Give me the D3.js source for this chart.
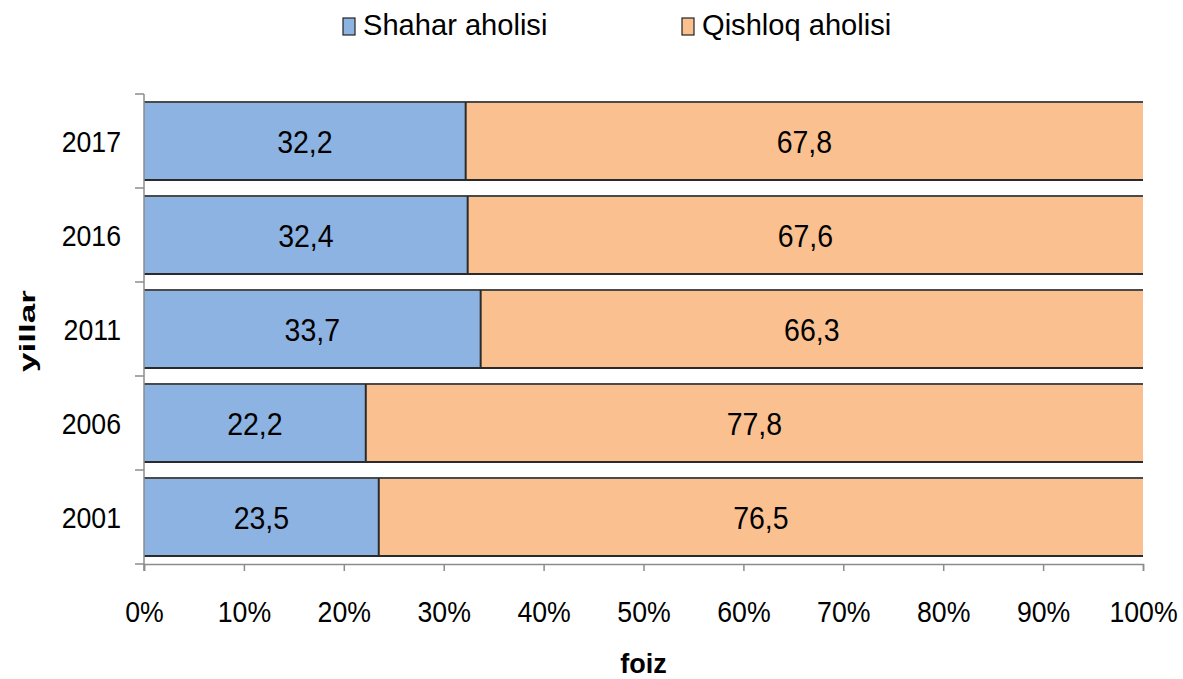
<!DOCTYPE html>
<html>
<head>
<meta charset="utf-8">
<script src="https://cdn.jsdelivr.net/npm/d3@7"></script>
<style>
body { margin: 0; background: #fff; }
text { font-family: "Liberation Sans", Arial, sans-serif; fill: #000; }
</style>
</head>
<body>
<svg id="chart"></svg>
<script>
var years = ["2017", "2016", "2011", "2006", "2001"];
var shahar = [32.2, 32.4, 33.7, 22.2, 23.5];
var qishloq = [67.8, 67.6, 66.3, 77.8, 76.5];
var seriesNames = ["Shahar aholisi", "Qishloq aholisi"];
var colors = ["#8DB3E2", "#FAC090"];
var xTicks = [0, 10, 20, 30, 40, 50, 60, 70, 80, 90, 100];

var screen = {width: 1183, height: 679};
var margins = {top: 94, left: 144, right: 40, bottom: 115};
var graph = {
    width: screen.width - margins.left - margins.right,
    height: screen.height - margins.top - margins.bottom
};

// text in the original is a bit squeezed sideways
var sq = 0.89;

var svg = d3.select("#chart")
    .attr("width", screen.width)
    .attr("height", screen.height);

var g = svg.append("g")
    .attr("transform", "translate(" + margins.left + "," + margins.top + ")");

var xScale = d3.scaleLinear()
    .domain([0, 100])
    .range([0, graph.width]);

var yScale = d3.scaleBand()
    .domain(years)
    .range([0, graph.height])
    .paddingInner(0.17)
    .paddingOuter(0.085);

var rows = years.map(function(y, i) {
    return {year: y, vals: [shahar[i], qishloq[i]]};
});

// bars
rows.forEach(function(row) {
    var x0 = 0;
    var top = yScale(row.year);
    var bot = top + yScale.bandwidth();
    row.vals.forEach(function(v, j) {
        var x1 = x0 + v;
        g.append("rect")
            .attr("x", xScale(x0))
            .attr("y", top)
            .attr("width", xScale(x1) - xScale(x0))
            .attr("height", yScale.bandwidth())
            .attr("fill", colors[j]);
        g.append("text")
            .attr("transform", "translate(" + xScale((x0 + x1) / 2) + "," + (top + yScale.bandwidth() / 2) + ") scale(" + sq + ",1)")
            .attr("dy", "0.36em")
            .attr("text-anchor", "middle")
            .style("font-size", "32px")
            .text(d3.format(".1f")(v).replace(".", ","));
        x0 = x1;
    });
    // dark edges on top, bottom and between the two parts
    g.append("line")
        .attr("x1", xScale(0)).attr("x2", xScale(100))
        .attr("y1", top).attr("y2", top)
        .attr("stroke", "#4a4a4a").attr("stroke-width", 2);
    g.append("line")
        .attr("x1", xScale(0)).attr("x2", xScale(100))
        .attr("y1", bot).attr("y2", bot)
        .attr("stroke", "#2a2a2a").attr("stroke-width", 2);
    g.append("line")
        .attr("x1", xScale(row.vals[0])).attr("x2", xScale(row.vals[0]))
        .attr("y1", top).attr("y2", bot)
        .attr("stroke", "#2a2a2a").attr("stroke-width", 2);
});

// x axis
var xAxis = d3.axisBottom(xScale)
    .tickValues(xTicks)
    .tickSize(7)
    .tickFormat(function(d) { return d + "%"; });

var xg = g.append("g")
    .attr("transform", "translate(0," + graph.height + ")")
    .call(xAxis);
xg.select(".domain").attr("stroke", "#8c8c8c").attr("stroke-width", 1.5);
xg.selectAll(".tick line").attr("stroke", "#8c8c8c").attr("stroke-width", 1.5);
xg.selectAll(".tick text")
    .attr("dy", 0)
    .attr("y", 58)
    .attr("transform", "scale(" + sq + ",1)")
    .style("font-size", "30px")
    .style("font-family", "Liberation Sans, Arial, sans-serif");

// y axis: line with ticks between categories
var yg = g.append("g");
yg.append("line")
    .attr("x1", 0).attr("x2", 0)
    .attr("y1", 0).attr("y2", graph.height + 7)
    .attr("stroke", "#8c8c8c").attr("stroke-width", 1.5);
d3.range(years.length + 1).forEach(function(i) {
    yg.append("line")
        .attr("x1", -9).attr("x2", 0)
        .attr("y1", i * graph.height / years.length)
        .attr("y2", i * graph.height / years.length)
        .attr("stroke", "#8c8c8c").attr("stroke-width", 1.5);
});
years.forEach(function(y) {
    yg.append("text")
        .attr("transform", "translate(-23," + (yScale(y) + yScale.bandwidth() / 2) + ") scale(" + sq + ",1)")
        .attr("dy", "0.36em")
        .attr("text-anchor", "end")
        .style("font-size", "30px")
        .text(y);
});

// axis titles
svg.append("text")
    .attr("transform", "translate(35," + (margins.top + graph.height / 2 + 2) + ") rotate(-90) scale(1.3,0.85)")
    .attr("text-anchor", "middle")
    .style("font-size", "27px")
    .style("font-weight", "bold")
    .text("yillar");

svg.append("text")
    .attr("x", margins.left + graph.width / 2)
    .attr("y", 673)
    .attr("text-anchor", "middle")
    .style("font-size", "27px")
    .style("font-weight", "bold")
    .text("foiz");

// legend
var legendX = [343, 682];
seriesNames.forEach(function(name, i) {
    var lg = svg.append("g").attr("transform", "translate(" + legendX[i] + ",18)");
    lg.append("rect")
        .attr("x", 0).attr("y", 0)
        .attr("width", 12).attr("height", 17)
        .attr("fill", colors[i])
        .attr("stroke", "#222").attr("stroke-width", 1.2);
    lg.append("text")
        .attr("transform", "translate(20,17) scale(0.97,1)")
        .style("font-size", "30px")
        .text(name);
});
</script>
</body>
</html>
